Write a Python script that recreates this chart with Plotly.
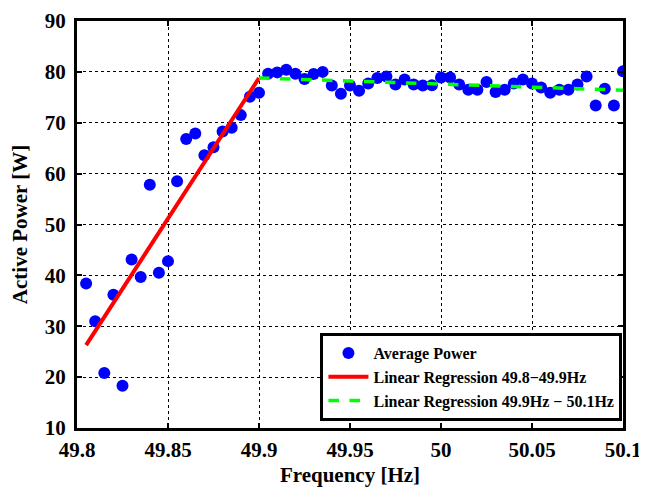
import plotly.graph_objects as go

# measured average power per frequency step
freq = [
    49.805, 49.81, 49.815, 49.82, 49.825, 49.83, 49.835, 49.84, 49.845, 49.85,
    49.855, 49.86, 49.865, 49.87, 49.875, 49.88, 49.885, 49.89, 49.895, 49.9,
    49.905, 49.91, 49.915, 49.92, 49.925, 49.93, 49.935, 49.94, 49.945, 49.95,
    49.955, 49.96, 49.965, 49.97, 49.975, 49.98, 49.985, 49.99, 49.995, 50.0,
    50.005, 50.01, 50.015, 50.02, 50.025, 50.03, 50.035, 50.04, 50.045, 50.05,
    50.055, 50.06, 50.065, 50.07, 50.075, 50.08, 50.085, 50.09, 50.095, 50.1,
]
power = [
    38.4, 31.0, 20.8, 36.2, 18.3, 43.1, 39.7, 57.8, 40.5, 42.8,
    58.5, 66.8, 67.9, 63.6, 65.2, 68.3, 69.0, 71.5, 75.1, 75.9,
    79.65, 79.9, 80.4, 79.65, 78.6, 79.6, 80.0, 77.3, 75.7, 77.3,
    76.3, 77.7, 78.8, 79.1, 77.5, 78.5, 77.5, 77.3, 77.35, 78.9,
    78.9, 77.5, 76.5, 76.5, 78.0, 76.05, 76.5, 77.7, 78.5, 77.7,
    76.95, 75.9, 76.5, 76.5, 77.5, 79.1, 73.4, 76.7, 73.4, 80.1,
]

# regression lines (end points)
fit1_x = [49.805, 49.9]
fit1_y = [26.3, 78.8]
fit2_x = [49.9, 50.1]
fit2_y = [78.8, 76.4]

x_ticks = [49.8, 49.85, 49.9, 49.95, 50.0, 50.05, 50.1]
x_tick_text = ["49.8", "49.85", "49.9", "49.95", "50", "50.05", "50.1"]
y_ticks = [10, 20, 30, 40, 50, 60, 70, 80, 90]

serif = "Liberation Serif, Times New Roman, serif"

fig = go.Figure()

fig.add_trace(
    go.Scatter(
        x=freq,
        y=power,
        mode="markers",
        marker=dict(color="#0000ff", size=12),
        name="Average Power",
    )
)
fig.add_trace(
    go.Scatter(
        x=fit1_x,
        y=fit1_y,
        mode="lines",
        line=dict(color="#ff0000", width=4),
        name="Linear Regression 49.8\u221249.9Hz",
    )
)
fig.add_trace(
    go.Scatter(
        x=fit2_x,
        y=fit2_y,
        mode="lines",
        line=dict(color="#00ff00", width=3.5, dash="dash"),
        name="Linear Regression 49.9Hz \u2212 50.1Hz",
    )
)

axis_style = dict(
    automargin=False,
    showline=True,
    linecolor="black",
    linewidth=3,
    mirror="ticks",
    ticks="inside",
    ticklen=5,
    tickwidth=2,
    tickcolor="black",
    showgrid=True,
    gridcolor="black",
    gridwidth=1,
    griddash="dot",
    zeroline=False,
    ticklabeloverflow="allow",
    tickfont=dict(family=serif, size=21, color="black", weight="bold"),
)

fig.update_xaxes(
    range=[49.8, 50.1],
    tickvals=x_ticks,
    ticktext=x_tick_text,
    ticklabelstandoff=1,
    title=dict(
        text="Frequency [Hz]",
        font=dict(family=serif, size=21, color="black", weight="bold"),
        standoff=13,
    ),
    **axis_style,
)
fig.update_yaxes(
    range=[10, 90],
    tickvals=y_ticks,
    ticklabelstandoff=4,
    title=dict(
        text="Active Power [W]",
        font=dict(family=serif, size=21, color="black", weight="bold"),
        standoff=15,
    ),
    **axis_style,
)

# page body adds an 8px margin, so the figure is 8px smaller than the window
fig.update_layout(
    width=639,
    height=479,
    margin=dict(l=69, r=24, t=13, b=59),
    paper_bgcolor="white",
    plot_bgcolor="white",
    showlegend=True,
    legend=dict(
        x=0.999,
        y=0.017,
        xanchor="right",
        yanchor="bottom",
        bgcolor="white",
        bordercolor="black",
        borderwidth=3,
        font=dict(family=serif, size=16, color="black", weight="bold"),
        tracegroupgap=0,
        itemwidth=40,
    ),
)

fig.write_html("out.html")
